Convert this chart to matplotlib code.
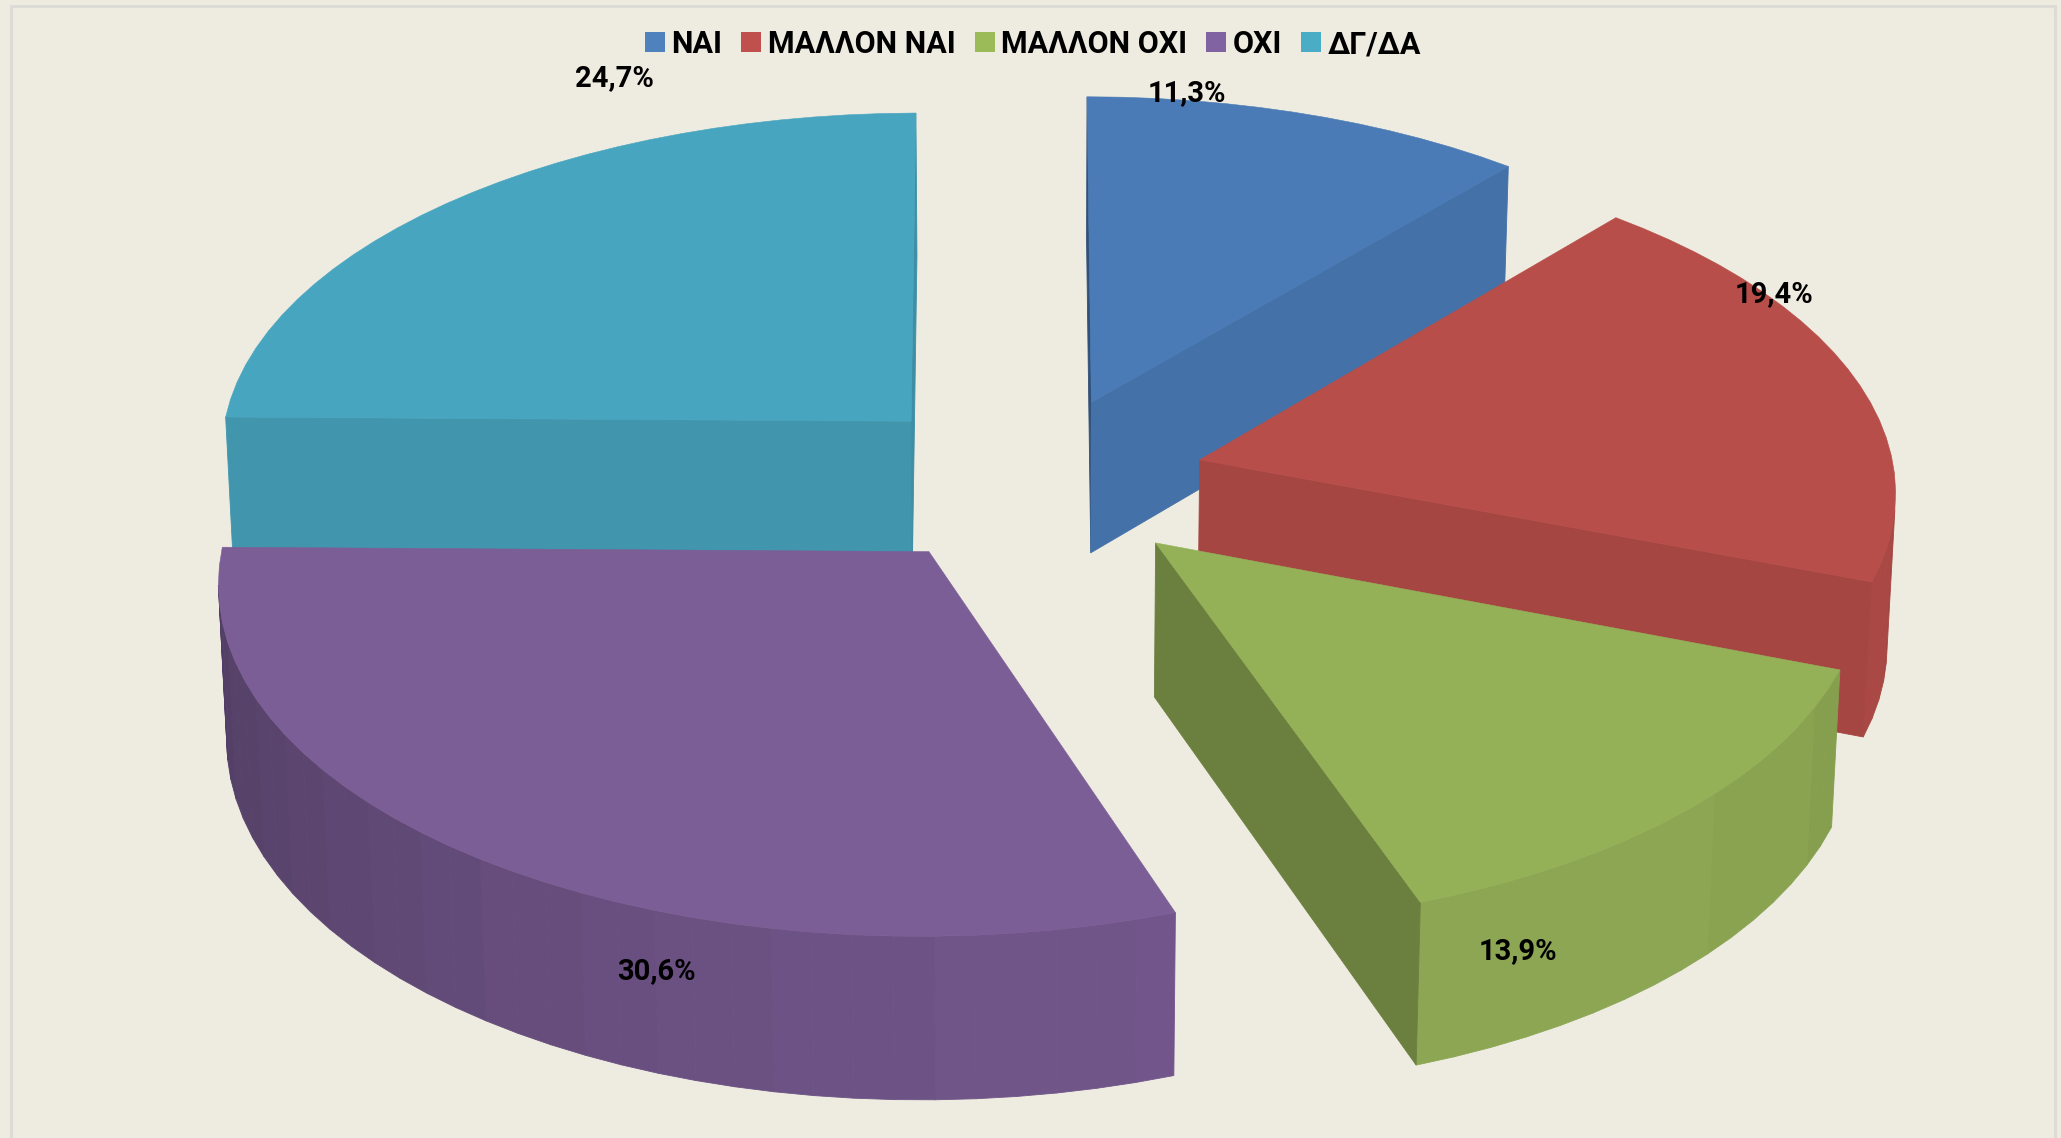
import numpy as np
import matplotlib
matplotlib.use("Agg")
import matplotlib.pyplot as plt
from matplotlib.patches import Polygon, Patch, Rectangle

labels = ["ΝΑΙ", "ΜΑΛΛΟΝ ΝΑΙ", "ΜΑΛΛΟΝ ΟΧΙ", "ΟΧΙ", "ΔΓ/ΔΑ"]
values = [11.3, 19.4, 13.9, 30.6, 24.7]

legend_colors = ["#4F81BD", "#C0504D", "#9BBB59", "#8064A2", "#4BACC6"]
top_colors = ["#4A7BB6", "#B84E4A", "#95B158", "#7C5E97", "#48A5C0"]
side_boost = [0, 0.03, 0, -0.02, 0]
# where excel put the percentages, in pixels
label_pos = [(1187, 93), (1774, 294), (1518, 951), (656, 971), (614, 78)]
draw_order = [4, 0, 1, 2, 3]

BG = "#EEECE1"
# camera, fitted against the corners of the slices
CX, CY = 1032, 481
SX, SY = 696, 342
DEPTH = 154
PERSP = 0.08
PERSP_Z = 0.01
EXPLODE = 0.25
FONT = "Roboto"


def project(X, Y, bottom=False):
    w = 1 - PERSP * np.asarray(Y)
    if bottom:
        w = w + PERSP_Z
        return CX + SX * np.asarray(X) / w, CY + (SY * np.asarray(Y) + DEPTH) / w
    return CX + SX * np.asarray(X) / w, CY + SY * np.asarray(Y) / w


def shade(color, s):
    r, g, b = matplotlib.colors.to_rgb(color)
    return (r * s, g * s, b * s)


fig = plt.figure(figsize=(20.61, 11.38), dpi=100, facecolor=BG)
ax = fig.add_axes([0, 0, 1, 1])
ax.set_xlim(0, 2061)
ax.set_ylim(1138, 0)
ax.axis("off")

ax.add_patch(Rectangle((11, 6), 2044, 1150, facecolor=BG, edgecolor="#DDDBD6", lw=2.2))

edges = np.cumsum([0] + values) / 100 * 2 * np.pi

for i in draw_order:
    a0, a1 = edges[i], edges[i + 1]
    mid = (a0 + a1) / 2
    ox = EXPLODE * np.sin(mid)
    oy = -EXPLODE * np.cos(mid)
    n = max(int(np.degrees(a1 - a0) / 3), 2)
    ang = np.linspace(a0, a1, n + 1)
    # outline: apex, rim clockwise, back to apex
    X = np.r_[ox, ox + np.sin(ang)]
    Y = np.r_[oy, oy - np.cos(ang)]
    tx, ty = project(X, Y)
    bx, by = project(X, Y, bottom=True)

    for j in range(len(X)):
        k = (j + 1) % len(X)
        quad = np.array([[tx[j], ty[j]], [tx[k], ty[k]], [bx[k], by[k]], [bx[j], by[j]]])
        qx, qy = quad[:, 0], quad[:, 1]
        area = np.sum(qx * np.roll(qy, -1) - np.roll(qx, -1) * qy)
        if area >= 0:
            continue  # faces away
        dx, dy = X[k] - X[j], Y[k] - Y[j]
        ln = np.hypot(dx, dy)
        s = min(0.76 + 0.095 * dy / ln + 0.15 * -dx / ln, 0.95) + side_boost[i]
        s = round(s * 50) / 50  # wide bands like the original
        c = shade(top_colors[i], s)
        ax.add_patch(Polygon(quad, closed=True, facecolor=c, edgecolor=c, lw=0.6))

    ax.add_patch(Polygon(np.c_[tx, ty], closed=True, facecolor=top_colors[i],
                         edgecolor=top_colors[i], lw=0.4))

for i in range(len(values)):
    txt = f"{values[i]:.1f}".replace(".", ",") + "%"
    ax.text(label_pos[i][0], label_pos[i][1], txt, ha="center", va="center",
            fontsize=21, fontweight="bold", family=FONT, color="black")

handles = [Patch(facecolor=c, edgecolor="none") for c in legend_colors]
fig.legend(handles, labels, ncol=5, loc="center", bbox_to_anchor=(1033 / 2061, 1 - 44 / 1138),
           frameon=False, handlelength=0.65, handleheight=0.65, handletextpad=0.22,
           columnspacing=0.62, prop={"family": FONT, "weight": "bold", "size": 22})

fig.savefig("out.png", dpi=100, facecolor=BG)
